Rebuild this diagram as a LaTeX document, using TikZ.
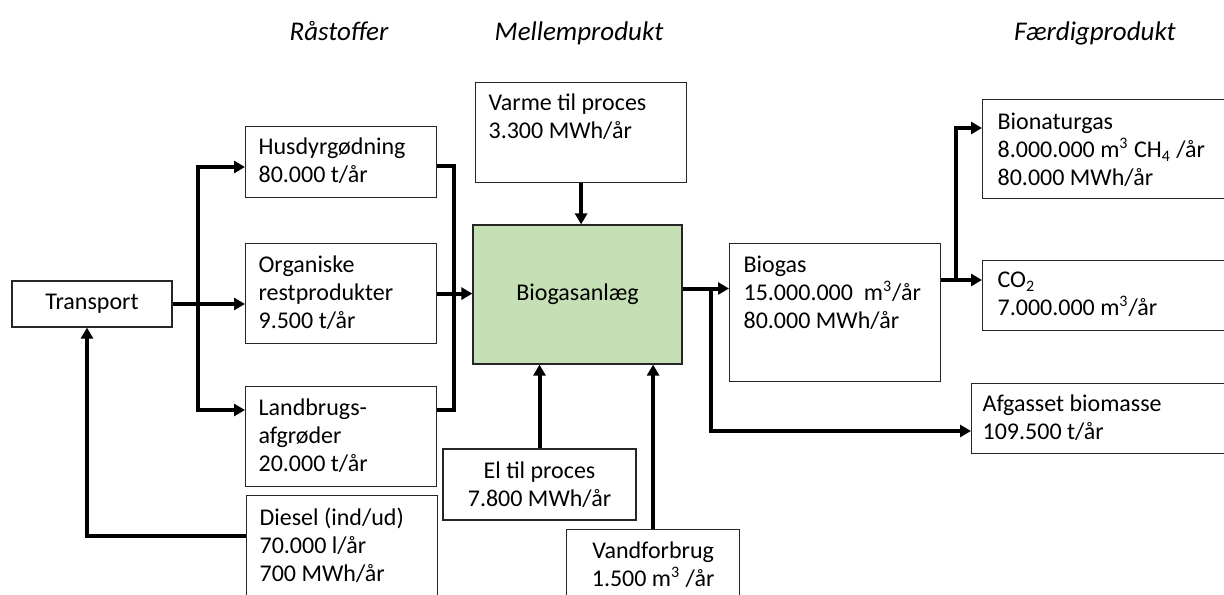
\documentclass[tikz,border=0pt]{standalone}
\usepackage{fontspec}
\setmainfont{Carlito}
\usetikzlibrary{arrows.meta,calc}
\definecolor{anlaeggreen}{RGB}{197,224,180}
\begin{document}
\begin{tikzpicture}[x=0.5pt,y=-0.5pt,
  box/.style={draw=black!85, line width=0.6pt},
  tbox/.style n args={3}{box, anchor=north west, align=flush left, inner xsep=6.5pt, inner ysep=0pt,
    text width=#1, text height=#2, text depth=#3},
  cbox/.style 2 args={box, align=flush center, minimum width=#1, minimum height=#2, inner sep=0pt},
  flow/.style={line width=2pt, -{Triangle[length=5.5pt,width=6pt]}},
  bus/.style={line width=2pt},
  head/.style={font=\fontsize{13.5}{16}\selectfont\itshape, anchor=base}]
\fontsize{12}{14}\selectfont
\useasboundingbox (0,0) rectangle (1224,594);
\clip (0,0) rectangle (1224,594);
% overskrifter
\node[head] (raa) at (339,40) {Råstoffer};
\node[head] (mellem) at (579,40) {Mellemprodukt};
\node[head] (faerdig) at (1095,40) {Færdigprodukt};
% råstoffer
\node[cbox={80pt}{23pt}] (transport) at (92,304) {Transport};
\node[tbox={82.5pt}{14pt}{21.5pt}] (husdyr) at (245,126) {Husdyrgødning\\80.000 t/år};
\node[tbox={82.5pt}{14.5pt}{35.5pt}] (organ) at (245,243) {Organiske\\restprodukter\\9.500 t/år};
\node[tbox={82.5pt}{14.5pt}{35.5pt}] (landbrug) at (245,386) {Landbrugs-\\afgrøder\\20.000 t/år};
\node[tbox={82.5pt}{15pt}{45pt}] (diesel) at (246,495) {Diesel (ind/ud)\\70.000 l/år\\700 MWh/år};
% mellemprodukt
\node[tbox={92.5pt}{14pt}{36pt}] (varme) at (475,82) {Varme til proces\\3.300 MWh/år};
\node[cbox={104.5pt}{69.5pt}, fill=anlaeggreen] (anlaeg) at (577.5,294.5) {Biogasanlæg};
\node[cbox={96.5pt}{35.5pt}] (el) at (539.5,484.5) {El til proces\\7.800 MWh/år};
\node[tbox={73.5pt}{14.5pt}{50pt}, align=flush center] (vand) at (566,529) {Vandforbrug\\1.500 m\textsuperscript{3} /år};
% færdigprodukt
\node[tbox={91.5pt}{14.5pt}{54.5pt}, inner xsep=7pt] (biogas) at (729,243) {Biogas\\15.000.000\ \ m\textsuperscript{3}/år\\80.000 MWh/år};
\node[tbox={115pt}{15pt}{34.5pt}, inner xsep=7.5pt] (bionatur) at (982,99) {Bionaturgas\\8.000.000 m\textsuperscript{3} CH\textsubscript{4} /år\\80.000 MWh/år};
\node[tbox={115pt}{13.5pt}{21.5pt}, inner xsep=7.5pt] (co2) at (982,260) {CO\textsubscript{2}\\7.000.000 m\textsuperscript{3}/år};
\node[tbox={124.5pt}{14pt}{21pt}, inner xsep=5.5pt] (afgas) at (971,383) {Afgasset biomasse\\109.500 t/år};
% forbindelser ind
\draw[flow] (transport.east) -- (transport.east -| organ.west);
\draw[flow] ($(transport.east)+(25,0)$) |- ($(husdyr.north west)+(0,41)$);
\draw[flow] ($(transport.east)+(25,0)$) |- ($(landbrug.north west)+(0,24)$);
\draw[bus] ($(husdyr.north east)+(0,40)$) -- ++(17,0) |- ($(landbrug.north east)+(0,24)$);
\draw[flow] (organ.east) -- (organ.east -| anlaeg.west);
\draw[flow] (varme.south) -- (varme.south |- anlaeg.north);
\draw[flow] (el.north) -- (el.north |- anlaeg.south);
\draw[flow] (vand.north) -- (vand.north |- anlaeg.south);
\draw[flow] ($(diesel.north west)+(0,41)$) -| ($(transport.south)+(-5,0)$);
% forbindelser ud
\coordinate (gasud) at ($(anlaeg.east)+(0,-6)$);
\draw[flow] (gasud) -- (gasud -| biogas.west);
\draw[flow] ($(gasud)+(28,0)$) |- ($(afgas.north west)+(0,48)$);
\draw[flow] ($(biogas.north east)+(0,37)$) -- ($(co2.north west)+(0,20)$);
\draw[flow] ($(biogas.north east)+(15,37)$) |- ($(bionatur.north west)+(0,29)$);
\end{tikzpicture}
\end{document}
